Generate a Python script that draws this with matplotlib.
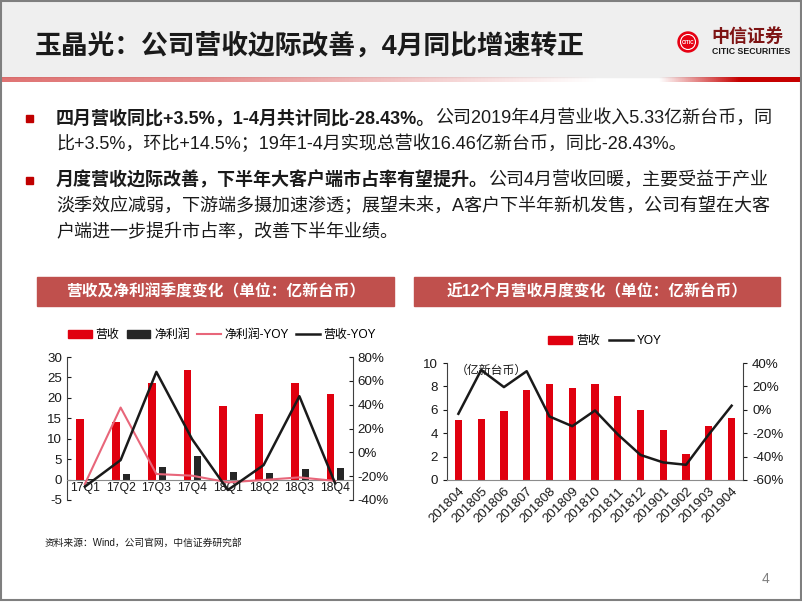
import numpy as np
import matplotlib
matplotlib.use("Agg")
import matplotlib.pyplot as plt
from matplotlib.patches import Rectangle, Circle, Patch
from matplotlib.lines import Line2D

W, H = 802, 602

# ---------- data ---------------------------------------------------------- #
quarters = ["17Q1", "17Q2", "17Q3", "17Q4", "18Q1", "18Q2", "18Q3", "18Q4"]
q_revenue = [14.9, 14.0, 23.6, 26.9, 18.1, 16.0, 23.6, 20.9]
q_profit = [0.1, 1.35, 3.05, 5.65, 1.85, 1.6, 2.55, 2.8]
q_profit_yoy = [-26.6, 37.6, -18.2, -19.6, -25.2, -23.2, -21.0, -24.0]
q_revenue_yoy = [-28.8, -6.5, 67.5, 11.0, -31.6, -10.7, 47.1, -26.0]
q_left_ticks = [-5, 0, 5, 10, 15, 20, 25, 30]
q_right_ticks = [-40, -20, 0, 20, 40, 60, 80]

months = ["201804", "201805", "201806", "201807", "201808", "201809", "201810",
          "201811", "201812", "201901", "201902", "201903", "201904"]
m_revenue = [5.14, 5.23, 5.86, 7.66, 8.23, 7.86, 8.2, 7.2, 6.0, 4.29, 2.2, 4.63, 5.33]
m_yoy = [-3.4, 34.0, 19.4, 33.0, -5.7, -14.0, -0.6, -21.0, -38.6, -45.0, -47.0, -21.0, 3.5]
m_left_ticks = [0, 2, 4, 6, 8, 10]
m_right_ticks = [-60, -40, -20, 0, 20, 40]

title = "玉晶光：公司营收边际改善，4月同比增速转正"
bullets = [
    [[("四月营收同比+3.5%，1-4月共计同比-28.43%。", "bold"),
      ("公司2019年4月营业收入5.33亿新台币，同", "normal")],
     [("比+3.5%，环比+14.5%；19年1-4月实现总营收16.46亿新台币，同比-28.43%。", "normal")]],
    [[("月度营收边际改善，下半年大客户端市占率有望提升。", "bold"),
      ("公司4月营收回暖，主要受益于产业", "normal")],
     [("淡季效应减弱，下游端多摄加速渗透；展望未来，A客户下半年新机发售，公司有望在大客", "normal")],
     [("户端进一步提升市占率，改善下半年业绩。", "normal")]],
]
source = "资料来源：Wind，公司官网，中信证券研究部"

RED = "#E0000F"
DARK = "#262626"
PINK = "#E8667A"
BANNER = "#C0504D"
TXT = "#1A1A1A"

plt.rcParams["font.family"] = ["Liberation Sans", "Noto Sans CJK SC", "DejaVu Sans"]
plt.rcParams["axes.unicode_minus"] = False

fig = plt.figure(figsize=(W / 100, H / 100), dpi=100)
fig.patch.set_facecolor("white")

# background axes in pixel coordinates
bg = fig.add_axes([0, 0, 1, 1])
bg.set_xlim(0, W)
bg.set_ylim(H, 0)
bg.axis("off")

# header
bg.add_patch(Rectangle((0, 0), W, 77, color="#EFEFEF", zorder=0))
xs = np.linspace(0, W, 400)
alpha = np.interp(xs, [0, 200, 600, 660, 740, W], [0.55, 0.45, 0.0, 0.0, 1.0, 1.0])
grad = np.zeros((1, len(xs), 4))
grad[0, :, 0] = 0.78
grad[0, :, 3] = alpha
bg.imshow(grad, extent=(0, W, 82, 77), aspect="auto", zorder=1)
bg.set_xlim(0, W)
bg.set_ylim(H, 0)

bg.text(35, 46, title, fontsize=19.3, fontweight="bold", color=TXT, va="center", ha="left")

# logo
bg.add_patch(Circle((688, 42), 10, color="#E60012", zorder=2))
bg.add_patch(Circle((688, 42), 7.5, fill=False, ec="white", lw=0.8, zorder=3))
bg.text(688, 42.5, "CITIC", fontsize=3.4, color="white", ha="center", va="center",
        fontweight="bold", zorder=4)
bg.text(711, 37, "中信证券", fontsize=13, fontweight="bold", color="#7E1414",
        ha="left", va="center")
bg.text(712, 51, "CITIC SECURITIES", fontsize=6.3, fontweight="bold", color=TXT,
        ha="left", va="center", family=["Liberation Sans Narrow", "Liberation Sans"])

# bullet text
FS = 13.0


def rich_line(x, y, parts):
    prev = None
    for txt, weight in parts:
        if prev is None:
            prev = bg.text(x, y, txt, fontsize=FS, fontweight=weight, color=TXT,
                           ha="left", va="center")
        else:
            prev = bg.annotate(txt, xy=(1, 0.5), xycoords=prev, fontsize=FS,
                               fontweight=weight, color=TXT, ha="left", va="center")


line_y = [[118, 144], [180, 206, 232]]
for bullet, ys in zip(bullets, line_y):
    bg.add_patch(Rectangle((26, ys[0] - 3.5), 7, 7, color="#C00000"))
    for parts, y in zip(bullet, ys):
        rich_line(56, y, parts)

# chart banners
bg.add_patch(Rectangle((37, 277), 357, 29, color=BANNER))
bg.add_patch(Rectangle((414, 277), 366, 29, color=BANNER))
bg.text(215.5, 292, "营收及净利润季度变化（单位：亿新台币）", fontsize=11.3,
        fontweight="bold", color="white", ha="center", va="center")
bg.text(597, 292, "近12个月营收月度变化（单位：亿新台币）", fontsize=11.3,
        fontweight="bold", color="white", ha="center", va="center")

# footer
bg.text(45, 543, source, fontsize=7, color=TXT, ha="left", va="center")
bg.text(765, 579, "4", fontsize=10, color="#7F7F7F", ha="center", va="center")
bg.add_patch(Rectangle((1, 1), W - 2.5, H - 3, fill=False, ec="#7F7F7F", lw=1.5, zorder=10))


def px_axes(x0, y0, x1, y1):
    return fig.add_axes([x0 / W, 1 - y1 / H, (x1 - x0) / W, (y1 - y0) / H])


TICK_FS = 9.6

# ---------- left chart: quarterly ----------------------------------------- #
ax = px_axes(67, 357, 353, 500)
ax.set_facecolor("none")
x = np.arange(len(quarters))
ax.bar(x - 0.13, q_revenue, width=0.22, color=RED, zorder=2)
ax.bar(x + 0.16, q_profit, width=0.2, color=DARK, zorder=2)
ax.set_xlim(-0.5, len(quarters) - 0.5)
ax.set_ylim(-5, 30)
ax.set_yticks(q_left_ticks)
ax.set_xticks(x)
ax.set_xticklabels(quarters)
ax.spines["bottom"].set_position(("data", 0))
ax.spines["bottom"].set_color("#8C8C8C")
ax.spines["left"].set_color("#404040")
ax.spines["top"].set_visible(False)
ax.spines["right"].set_visible(False)
ax.tick_params(axis="x", length=0, pad=2, labelsize=8.8, colors=TXT)
ax.tick_params(axis="y", length=3, direction="in", labelsize=TICK_FS, colors=TXT)

ax2 = ax.twinx()
ax2.plot(x, q_profit_yoy, color=PINK, lw=1.5, zorder=3)
ax2.plot(x, q_revenue_yoy, color="#1A1A1A", lw=1.8, zorder=4)
ax2.set_ylim(-40, 80)
ax2.set_yticks(q_right_ticks)
ax2.set_yticklabels([f"{t}%" for t in q_right_ticks])
for s in ["top", "left", "bottom"]:
    ax2.spines[s].set_visible(False)
ax2.spines["right"].set_color("#404040")
ax2.tick_params(axis="y", length=3, direction="in", labelsize=TICK_FS, colors=TXT)

handles = [Patch(color=RED), Patch(color=DARK),
           Line2D([], [], color=PINK, lw=1.5), Line2D([], [], color="#1A1A1A", lw=1.8)]
ax.legend(handles, ["营收", "净利润", "净利润-YOY", "营收-YOY"], loc="center",
          bbox_to_anchor=(222 / W, 1 - 335 / H), bbox_transform=fig.transFigure,
          ncol=4, frameon=False, fontsize=8.6, handlelength=2.0, handleheight=0.6,
          handletextpad=0.3, columnspacing=0.6)

# ---------- right chart: monthly ------------------------------------------ #
bx = px_axes(447, 363, 743, 480)
bx.set_facecolor("none")
xm = np.arange(len(months))
bx.bar(xm, m_revenue, width=0.32, color=RED, zorder=2)
bx.set_xlim(-0.5, len(months) - 0.5)
bx.set_ylim(0, 10)
bx.set_yticks(m_left_ticks)
bx.set_xticks(xm)
bx.set_xticklabels(months, rotation=45, ha="right", rotation_mode="anchor")
bx.spines["bottom"].set_color("#8C8C8C")
bx.spines["left"].set_color("#404040")
bx.spines["top"].set_visible(False)
bx.spines["right"].set_visible(False)
bx.tick_params(axis="x", length=0, pad=4, labelsize=TICK_FS, colors=TXT)
bx.tick_params(axis="y", length=3, labelsize=TICK_FS, colors=TXT)
bx.text(0.03, 0.93, "（亿新台币）", transform=bx.transAxes, fontsize=8.6, color=TXT,
        ha="left", va="center")

bx2 = bx.twinx()
bx2.plot(xm, m_yoy, color="#1A1A1A", lw=1.8, zorder=3)
bx2.set_ylim(-60, 40)
bx2.set_yticks(m_right_ticks)
bx2.set_yticklabels([f"{t}%" for t in m_right_ticks])
for s in ["top", "left", "bottom"]:
    bx2.spines[s].set_visible(False)
bx2.spines["right"].set_color("#404040")
bx2.tick_params(axis="y", length=3, labelsize=TICK_FS, colors=TXT)

bhandles = [Patch(color=RED), Line2D([], [], color="#1A1A1A", lw=1.8)]
bx.legend(bhandles, ["营收", "YOY"], loc="center",
          bbox_to_anchor=(605 / W, 1 - 341 / H), bbox_transform=fig.transFigure,
          ncol=2, frameon=False, fontsize=8.6, handlelength=2.0, handleheight=0.6,
          handletextpad=0.3, columnspacing=0.8)

fig.savefig("out.png", dpi=100)
